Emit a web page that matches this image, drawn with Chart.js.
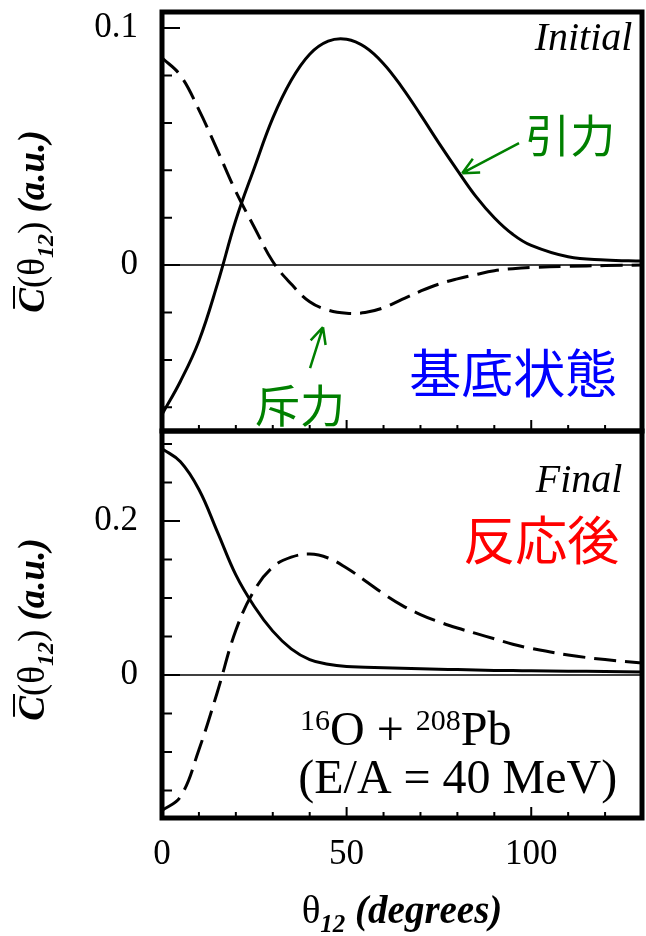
<!DOCTYPE html>
<html>
<head>
<meta charset="utf-8">
<script src="https://cdn.jsdelivr.net/npm/chart.js@4.4.1/dist/chart.umd.min.js"></script>
<style>
html, body { margin: 0; padding: 0; background: #fff; }
#wrap { position: relative; width: 646px; height: 936px; }
canvas { position: absolute; left: 0; }
</style>
</head>
<body>
<div id="wrap">
    <canvas id="initial-chart" width="646" height="445" style="top:0"></canvas>
    <canvas id="final-chart" width="646" height="516" style="top:420px"></canvas>
</div>
<script>
// angle grid (degrees) shared by every curve
const angles = [0, 5, 10, 15, 20, 25, 30, 35, 40, 45, 50, 55, 60, 65, 70, 75, 80, 85, 90, 95, 100, 110, 120, 130];

// initial state: solid = attractive, dashed = repulsive
const initialSolid = [-0.063, -0.049, -0.032, -0.008, 0.019, 0.041, 0.062, 0.078, 0.089, 0.0945, 0.0953, 0.092, 0.085, 0.075, 0.0635, 0.0515, 0.040, 0.029, 0.020, 0.013, 0.0083, 0.0035, 0.0022, 0.0017];
const initialDashed = [0.0875, 0.080, 0.0655, 0.0485, 0.031, 0.016, 0.0015, -0.008, -0.0155, -0.019, -0.0203, -0.020, -0.018, -0.0145, -0.011, -0.008, -0.0058, -0.004, -0.0024, -0.0015, -0.001, -0.0005, -0.0002, 0];

// final state
const finalSolid = [0.294, 0.277, 0.241, 0.186, 0.130, 0.089, 0.057, 0.034, 0.020, 0.014, 0.011, 0.0102, 0.0095, 0.0088, 0.008, 0.0075, 0.007, 0.0065, 0.006, 0.0058, 0.0055, 0.005, 0.0045, 0.004];
const finalDashed = [-0.176, -0.158, -0.097, -0.022, 0.058, 0.110, 0.140, 0.153, 0.157, 0.152, 0.139, 0.1225, 0.1055, 0.0905, 0.0785, 0.069, 0.061, 0.054, 0.047, 0.040, 0.0345, 0.026, 0.020, 0.0155];

// ticks
const xTickLabels = [0, 50, 100];
const xMinorTicks = [10, 20, 30, 40, 60, 70, 80, 90, 110, 120];
const initialTickLabels = [0, 0.1];
const initialMinorTicks = [-0.06, -0.04, -0.02, 0.02, 0.04, 0.06, 0.08];
const finalTickLabels = [0, 0.2];
const finalMinorTicks = [-0.15, -0.1, -0.05, 0.05, 0.1, 0.15, 0.25, 0.3];

const SERIF = '"Liberation Serif", "Times New Roman", serif';
const CJK = '"Noto Sans CJK JP", "Noto Sans CJK SC", sans-serif';
const GREEN = '#008000';

function drawRuns(ctx, runs, x, y, align) {
    let w = 0;
    runs.forEach(r => { ctx.font = r.font; w += ctx.measureText(r.text).width; });
    let cx = align === 'center' ? x - w / 2 : align === 'right' ? x - w : x;
    ctx.textAlign = 'left';
    ctx.textBaseline = 'alphabetic';
    runs.forEach(r => {
        ctx.font = r.font;
        const rw = ctx.measureText(r.text).width;
        ctx.fillText(r.text, cx, y + (r.dy || 0));
        if (r.overline) {
            ctx.beginPath();
            ctx.lineWidth = 2;
            ctx.moveTo(cx + 4, y - r.overline);
            ctx.lineTo(cx + rw + 2, y - r.overline);
            ctx.stroke();
        }
        cx += rw;
    });
}

const yTitleRuns = [
    { text: 'C', font: `italic bold 37px ${SERIF}`, overline: 30 },
    { text: '(\u03b8', font: `37px ${SERIF}` },
    { text: '12', font: `italic bold 24px ${SERIF}`, dy: 9 },
    { text: ') ', font: `37px ${SERIF}` },
    { text: '(a.u.)', font: `italic bold 37px ${SERIF}` }
];
const xTitleRuns = [
    { text: '\u03b8', font: `39px ${SERIF}` },
    { text: '12', font: `italic bold 25px ${SERIF}`, dy: 9 },
    { text: ' (degrees)', font: `italic bold 39px ${SERIF}` }
];

const panelPlugin = {
    id: 'panel',
    beforeDatasetsDraw(chart) {
        const { ctx, chartArea: a, scales: { y } } = chart;
        const y0 = y.getPixelForValue(0);
        ctx.save();
        ctx.strokeStyle = '#000';
        ctx.lineWidth = 1.5;
        ctx.beginPath();
        ctx.moveTo(a.left, y0);
        ctx.lineTo(a.right, y0);
        ctx.stroke();
        ctx.restore();
    },
    afterDatasetsDraw(chart, args, opts) {
        const { ctx, chartArea: a, scales: { x, y } } = chart;
        ctx.save();

        // notes and arrows
        (opts.notes || []).forEach(n => {
            const px = x.getPixelForValue(n.x), py = y.getPixelForValue(n.y);
            ctx.fillStyle = n.color || '#000';
            if (n.runs) {
                drawRuns(ctx, n.runs, px, py, n.align || 'left');
            } else {
                ctx.font = n.font;
                ctx.textAlign = n.align || 'center';
                ctx.textBaseline = n.baseline || 'middle';
                ctx.fillText(n.text, px, py);
            }
        });
        (opts.arrows || []).forEach(ar => {
            const x1 = x.getPixelForValue(ar.from[0]), y1 = y.getPixelForValue(ar.from[1]);
            const x2 = x.getPixelForValue(ar.to[0]), y2 = y.getPixelForValue(ar.to[1]);
            const ang = Math.atan2(y2 - y1, x2 - x1);
            ctx.strokeStyle = GREEN;
            ctx.lineWidth = 2.5;
            ctx.beginPath();
            ctx.moveTo(x1, y1);
            ctx.lineTo(x2, y2);
            [-0.45, 0.45].forEach(d => {
                ctx.moveTo(x2, y2);
                ctx.lineTo(x2 - 18 * Math.cos(ang + d), y2 - 18 * Math.sin(ang + d));
            });
            ctx.stroke();
        });

        // inner tick marks
        ctx.strokeStyle = '#000';
        ctx.lineWidth = 2;
        ctx.beginPath();
        opts.yMajor.forEach(v => { const p = y.getPixelForValue(v); ctx.moveTo(a.left, p); ctx.lineTo(a.left + 18, p); });
        opts.yMinor.forEach(v => { const p = y.getPixelForValue(v); ctx.moveTo(a.left, p); ctx.lineTo(a.left + 10, p); });
        xTickLabels.forEach(v => { const p = x.getPixelForValue(v); ctx.moveTo(p, a.bottom); ctx.lineTo(p, a.bottom - 11); });
        xMinorTicks.forEach(v => { const p = x.getPixelForValue(v); ctx.moveTo(p, a.bottom); ctx.lineTo(p, a.bottom - 6); });
        ctx.stroke();

        // frame
        ctx.lineWidth = 5;
        ctx.strokeRect(a.left, a.top, a.right - a.left, a.bottom - a.top);

        // axis titles
        ctx.fillStyle = '#000';
        ctx.strokeStyle = '#000';
        ctx.save();
        ctx.translate(44, (a.top + a.bottom) / 2 + (opts.yTitleShift || 0));
        ctx.rotate(-Math.PI / 2);
        drawRuns(ctx, yTitleRuns, 0, 0, 'center');
        ctx.restore();
        if (opts.xTitle) {
            drawRuns(ctx, xTitleRuns, (a.left + a.right) / 2, a.bottom + 105, 'center');
        }
        ctx.restore();
    }
};

function makeChart(id, cfg) {
    return new Chart(document.getElementById(id), {
        type: 'line',
        data: {
            datasets: [
                {
                    data: angles.map((a, i) => ({ x: a, y: cfg.solid[i] })),
                    borderColor: '#000', borderWidth: 3, pointRadius: 0, tension: 0.4
                },
                {
                    data: angles.map((a, i) => ({ x: a, y: cfg.dashed[i] })),
                    borderColor: '#000', borderWidth: 3, pointRadius: 0, tension: 0.4,
                    borderDash: [22, 9]
                }
            ]
        },
        options: {
            responsive: false,
            animation: false,
            devicePixelRatio: 1,
            layout: { padding: { top: cfg.padTop, right: 4, left: 0, bottom: 0 } },
            plugins: {
                legend: { display: false },
                tooltip: { enabled: false },
                panel: cfg.panel
            },
            scales: {
                x: {
                    type: 'linear', min: 0, max: 130,
                    grid: { display: false, drawTicks: false },
                    border: { display: false },
                    afterBuildTicks: s => { s.ticks = xTickLabels.map(v => ({ value: v })); },
                    afterFit: s => { s.height = cfg.xHeight; s.paddingLeft = 0; s.paddingRight = 0; },
                    ticks: {
                        display: cfg.showX, padding: 16, maxRotation: 0,
                        color: '#000', font: { family: SERIF, size: 35 }
                    }
                },
                y: {
                    type: 'linear', min: cfg.yMin, max: cfg.yMax,
                    grid: { display: false, drawTicks: false },
                    border: { display: false },
                    afterBuildTicks: s => { s.ticks = cfg.yLabels.map(v => ({ value: v })); },
                    afterFit: s => { s.width = 162; s.paddingTop = 0; s.paddingBottom = 0; },
                    ticks: {
                        padding: 24, color: '#000', font: { family: SERIF, size: 35 },
                        callback: v => (v === 0 ? '0' : String(v))
                    }
                }
            }
        },
        plugins: [panelPlugin]
    });
}

makeChart('initial-chart', {
    solid: initialSolid, dashed: initialDashed,
    yMin: -0.070, yMax: 0.1068, yLabels: initialTickLabels,
    padTop: 12, xHeight: 14, showX: false,
    panel: {
        yMajor: initialTickLabels, yMinor: initialMinorTicks,
        notes: [
            { text: 'Initial', x: 127.4, y: 0.0907, font: `italic 40px ${SERIF}`, align: 'right', baseline: 'alphabetic' },
            { text: '引力', x: 110.6, y: 0.0544, font: `45px ${CJK}`, color: GREEN },
            { text: '斥力', x: 37.4, y: -0.0595, font: `45px ${CJK}`, color: GREEN },
            { text: '基底状態', x: 95.1, y: -0.0456, font: `52px ${CJK}`, color: '#0000ff' }
        ],
        arrows: [
            { from: [96.7, 0.0515], to: [81.3, 0.0388] },
            { from: [40.1, -0.0435], to: [43.6, -0.0262] }
        ]
    }
});

makeChart('final-chart', {
    solid: finalSolid, dashed: finalDashed,
    yMin: -0.1857, yMax: 0.3169, yLabels: finalTickLabels,
    padTop: 11, xHeight: 118, showX: true,
    panel: {
        yMajor: finalTickLabels, yMinor: finalMinorTicks, xTitle: true, yTitleShift: 5,
        notes: [
            { text: 'Final', x: 124.7, y: 0.2377, font: `italic 40px ${SERIF}`, align: 'right', baseline: 'alphabetic' },
            { text: '反応後', x: 102.7, y: 0.1753, font: `52px ${CJK}`, color: '#ff0000' },
            {
                x: 37.4, y: -0.0909, align: 'left', runs: [
                    { text: '16', font: `30px ${SERIF}`, dy: -15 },
                    { text: 'O + ', font: `48px ${SERIF}` },
                    { text: '208', font: `30px ${SERIF}`, dy: -15 },
                    { text: 'Pb', font: `48px ${SERIF}` }
                ]
            },
            { x: 36.9, y: -0.1532, align: 'left', runs: [{ text: '(E/A = 40 MeV)', font: `48px ${SERIF}` }] }
        ]
    }
});
</script>
</body>
</html>
